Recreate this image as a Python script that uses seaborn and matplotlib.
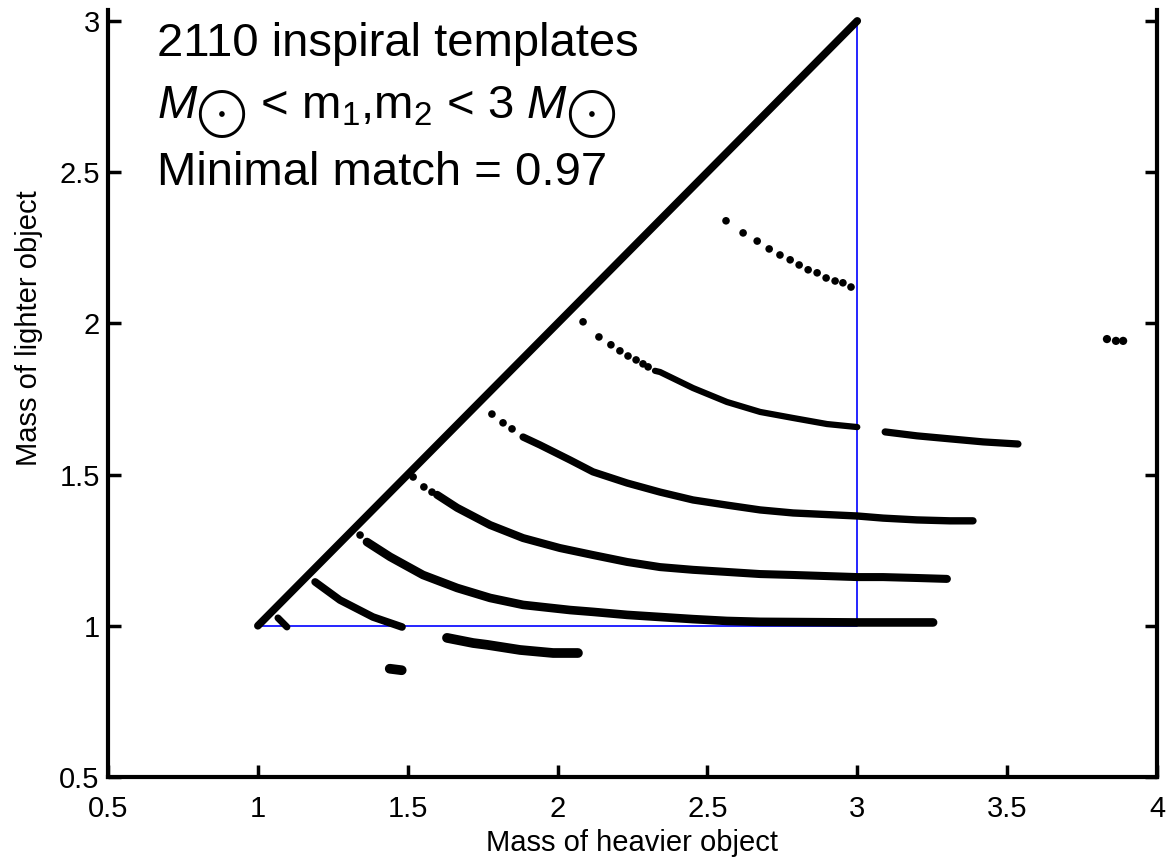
import matplotlib
matplotlib.use("Agg")
import matplotlib.pyplot as plt
import seaborn as sns

# ---------------- data ----------------
diag_x = [1.0, 3.0]
diag_y = [1.0, 3.0]

box_x = [1.0, 3.0, 3.0]
box_y = [1.0, 1.0, 3.0]

curveA_dots_x = [2.562, 2.619, 2.666, 2.706, 2.742, 2.776, 2.806, 2.836, 2.866, 2.896, 2.926, 2.952, 2.979]
curveA_dots_y = [2.339, 2.299, 2.272, 2.246, 2.226, 2.210, 2.193, 2.177, 2.167, 2.150, 2.140, 2.134, 2.120]

curveB_dots_x = [2.085, 2.138, 2.178, 2.208, 2.235, 2.262, 2.285, 2.302]
curveB_dots_y = [2.005, 1.955, 1.929, 1.909, 1.892, 1.879, 1.866, 1.856]
curveB_line_x = [2.325, 2.342, 2.452, 2.565, 2.676, 2.786, 2.899, 3.0]
curveB_line_y = [1.843, 1.839, 1.786, 1.740, 1.707, 1.687, 1.667, 1.657]
curveB_ext_x = [3.093, 3.199, 3.309, 3.420, 3.536]
curveB_ext_y = [1.641, 1.628, 1.618, 1.608, 1.601]

curveC_dots_x = [1.781, 1.818, 1.848]
curveC_dots_y = [1.700, 1.671, 1.651]
curveC_line_x = [1.885, 1.941, 2.042, 2.118, 2.232, 2.342, 2.452, 2.565, 2.676, 2.786, 3.0, 3.086, 3.199, 3.309, 3.386]
curveC_line_y = [1.624, 1.598, 1.548, 1.509, 1.472, 1.442, 1.416, 1.399, 1.383, 1.373, 1.363, 1.356, 1.350, 1.347, 1.347]

curveD_dots_x = [1.518, 1.554, 1.581]
curveD_dots_y = [1.492, 1.459, 1.442]
curveD_line_x = [1.598, 1.665, 1.775, 1.885, 2.008, 2.118, 2.232, 2.342, 2.452, 2.565, 2.676, 2.786, 3.0, 3.086, 3.199, 3.299]
curveD_line_y = [1.433, 1.390, 1.333, 1.290, 1.257, 1.234, 1.211, 1.194, 1.185, 1.178, 1.171, 1.168, 1.161, 1.161, 1.158, 1.155]

curveE_dots_x = [1.341]
curveE_dots_y = [1.300]
curveE_line_x = [1.364, 1.441, 1.551, 1.665, 1.775, 1.885, 2.042, 2.118, 2.232, 2.342, 2.452, 2.565, 2.676, 3.0, 3.253]
curveE_line_y = [1.277, 1.228, 1.168, 1.125, 1.092, 1.069, 1.052, 1.046, 1.036, 1.029, 1.022, 1.016, 1.013, 1.011, 1.011]

curveF_line_x = [1.191, 1.274, 1.384, 1.481]
curveF_line_y = [1.145, 1.085, 1.029, 0.996]

curveG_line_x = [1.067, 1.097]
curveG_line_y = [1.026, 0.996]

curveH_line_x = [1.631, 1.718, 1.765, 1.875, 1.985, 2.068]
curveH_line_y = [0.960, 0.943, 0.937, 0.920, 0.910, 0.910]

blob_x = [1.44, 1.48]
blob_y = [0.858, 0.853]

far_dots_x = [3.833, 3.863, 3.887]
far_dots_y = [1.948, 1.942, 1.942]

x_ticks = [0.5, 1, 1.5, 2, 2.5, 3, 3.5, 4]
x_ticklabels = ["0.5", "1", "1.5", "2", "2.5", "3", "3.5", "4"]
y_ticks = [0.5, 1, 1.5, 2, 2.5, 3]
y_ticklabels = ["0.5", "1", "1.5", "2", "2.5", "3"]

annot_lines = ["2110 inspiral templates",
               r"$M_{\bigodot}$ < m$_1$,m$_2$ < 3 $M_{\bigodot}$",
               "Minimal match = 0.97"]

# ---------------- style ----------------
sns.set_style("ticks")
plt.rcParams["font.family"] = ["Liberation Sans", "DejaVu Sans"]
plt.rcParams["mathtext.fontset"] = "custom"
plt.rcParams["mathtext.rm"] = "Liberation Sans"
plt.rcParams["mathtext.it"] = "Liberation Sans:italic"
plt.rcParams["mathtext.bf"] = "Liberation Sans:bold"
plt.rcParams["text.color"] = "black"
plt.rcParams["axes.labelcolor"] = "black"

fig = plt.figure(figsize=(11.75, 8.63), dpi=100)
ax = fig.add_axes([108 / 1175, (863 - 777) / 863, (1157 - 108) / 1175, (777 - 10) / 863])

# blue region outline
sns.lineplot(x=box_x, y=box_y, sort=False, estimator=None, color="#0000ff", lw=1.2, ax=ax, zorder=1)

def line(xs, ys, lw):
    sns.lineplot(x=xs, y=ys, sort=False, estimator=None, color="black", lw=lw,
                 solid_capstyle="round", ax=ax, zorder=3)

def dots(xs, ys, s=30):
    sns.scatterplot(x=xs, y=ys, color="black", s=s, marker="o", edgecolor="none", ax=ax, zorder=3)

line(diag_x, diag_y, 5.5)
dots(curveA_dots_x, curveA_dots_y)
dots(curveB_dots_x, curveB_dots_y)
line(curveB_line_x, curveB_line_y, 4.5)
line(curveB_ext_x, curveB_ext_y, 5.2)
dots(curveC_dots_x, curveC_dots_y)
line(curveC_line_x, curveC_line_y, 5.3)
dots(curveD_dots_x, curveD_dots_y)
line(curveD_line_x, curveD_line_y, 5.8)
dots(curveE_dots_x, curveE_dots_y)
line(curveE_line_x, curveE_line_y, 6.2)
line(curveF_line_x, curveF_line_y, 5.5)
line(curveG_line_x, curveG_line_y, 5.0)
line(curveH_line_x, curveH_line_y, 7.0)
line(blob_x, blob_y, 7.0)
dots(far_dots_x, far_dots_y, s=35)

ax.set_xlim(0.5, 4.0)
ax.set_ylim(0.5, 3.036)
ax.set_xticks(x_ticks)
ax.set_xticklabels(x_ticklabels)
ax.set_yticks(y_ticks)
ax.set_yticklabels(y_ticklabels)
ax.tick_params(direction="in", length=9, width=2.5, right=True, top=False,
               labelsize=21, colors="black", labelcolor="black")
ax.tick_params(axis="x", pad=13)
ax.tick_params(axis="y", pad=6)

for side in ["left", "bottom", "right"]:
    ax.spines[side].set_visible(True)
    ax.spines[side].set_linewidth(3)
    ax.spines[side].set_color("black")
ax.spines["top"].set_visible(False)

ax.set_xlabel("Mass of heavier object", fontsize=21, labelpad=4, color="black")
ax.set_ylabel("Mass of lighter object", fontsize=21, color="black")
ax.yaxis.set_label_coords(-0.062, 0.585)

annot_y = [2.884, 2.673, 2.458]
for txt, yy in zip(annot_lines, annot_y):
    ax.text(0.665, yy, txt, fontsize=34, va="baseline", ha="left", color="black")

fig.savefig("out.png", dpi=100)
